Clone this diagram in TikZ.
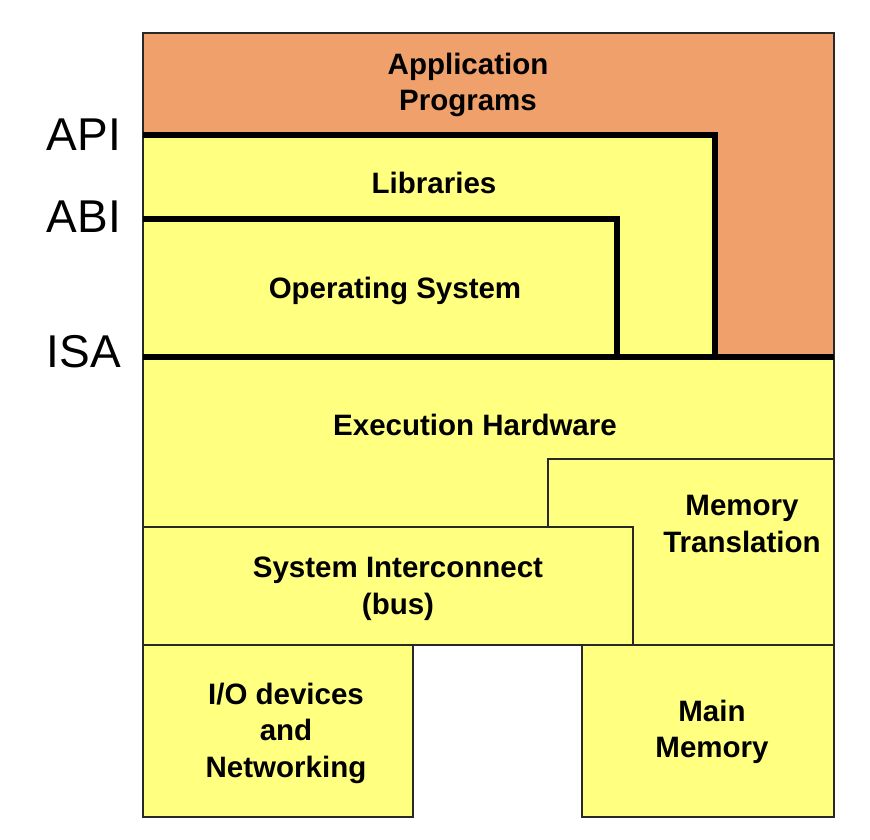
\documentclass[tikz,border=0pt]{standalone}
\usepackage{fontspec}
\setmainfont{Liberation Sans}
\definecolor{appor}{RGB}{240,160,106}
\definecolor{ylw}{RGB}{255,255,128}
\definecolor{edge}{RGB}{40,40,40}
\tikzset{
  box/.style={fill=ylw,draw=edge,line width=1.5pt},
  ifline/.style={line width=6pt,line cap=butt,line join=miter},
  txt/.style={font=\fontsize{29.5}{36.5}\selectfont\bfseries,align=center,inner sep=0pt},
  lbl/.style={font=\fontsize{46}{50}\selectfont,anchor=east,inner sep=0pt}
}
\begin{document}
\begin{tikzpicture}[x=1pt,y=-1pt]
\useasboundingbox (0,0) rectangle (870,840);
% upper software part
\path[fill=appor,draw=edge,line width=1.5pt] (143,33) rectangle (834,357);
\fill[ylw] (143,135) rectangle (715,357);
\draw[edge,line width=1.5pt] (143,135) -- (143,357);
% hardware
\draw[box] (143,357) rectangle (834,527);
\draw[box] (548,459) rectangle (834,645);
\draw[box] (143,527) rectangle (633,645);
\draw[box] (143,645) rectangle (413,817);
\draw[box] (582,645) rectangle (834,817);
% interface lines
\draw[ifline] (143,135) -- (715,135) -- (715,357);
\draw[ifline] (143,219) -- (617,219) -- (617,357);
\draw[ifline] (143,357) -- (834,357);
% texts
\node[txt] (app) at (468,85) {Application\\Programs};
\node[txt] (lib) at (434,183) {Libraries};
\node[txt] (os) at (395,291) {Operating System};
\node[txt] (eh) at (475,425) {Execution Hardware};
\node[txt] (mt) at (742,524) {Memory\\Translation};
\node[txt] (si) at (398,589) {System Interconnect\\(bus)};
\node[txt] (io) at (286,733) {I/O devices\\and\\Networking};
\node[txt] (mm) at (712,732) {Main\\Memory};
% interface labels
\node[lbl] (api) at (121,135) {API};
\node[lbl] (abi) at (121,217) {ABI};
\node[lbl] (isa) at (121,352) {ISA};
\end{tikzpicture}
\end{document}
